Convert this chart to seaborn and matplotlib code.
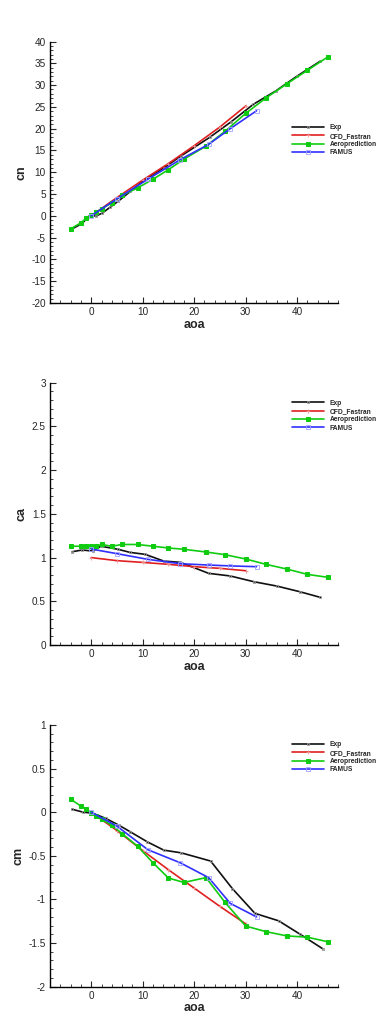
import numpy as np
import pandas as pd
import matplotlib
matplotlib.use("Agg")
import matplotlib.pyplot as plt
from matplotlib.ticker import MultipleLocator
import seaborn as sns

# series names / legend
noms = ["Exp", "CFD_Fastran", "Aeroprediction", "FAMUS"]

# ---- cn ----
cn_exp_aoa = [-3.7, -1.7, -0.5, 1.0, 2.1, 3.7, 5.3, 7.6, 10.5, 14.1, 17.4, 23.0, 27.2, 31.5, 35.9, 39.9, 44.5]
cn_exp = [-3.0, -1.7, -0.1, 0.0, 0.6, 2.0, 3.4, 5.6, 8.4, 11.0, 13.7, 18.0, 21.6, 25.6, 28.7, 32.0, 35.5]
cfd_aoa = [0, 5, 10, 15, 20, 25, 30]
cn_cfd = [0.0, 4.2, 8.2, 12.0, 16.1, 20.4, 25.2]
aero_aoa = [-4, -2, -1, 0, 1, 2, 4, 6, 9, 12, 15, 18, 22.3, 26, 30, 34, 38, 42, 46]
cn_aero = [-3.0, -1.6, -0.6, 0.1, 0.8, 1.6, 3.0, 4.7, 6.4, 8.4, 10.6, 13.0, 16.0, 19.4, 23.5, 27.1, 30.3, 33.4, 36.5]
famus_aoa = [0, 5, 11, 17.3, 22.8, 27, 32.1]
cn_famus = [0.0, 3.9, 8.4, 12.9, 16.4, 20.0, 24.1]

# ---- ca ----
ca_exp_aoa = [-3.7, -1.75, 0.3, 1.9, 5.2, 7.5, 10.5, 14.1, 17.3, 22.8, 27.0, 31.6, 36.0, 40.5, 44.5]
ca_exp = [1.067, 1.087, 1.075, 1.13, 1.095, 1.06, 1.037, 0.96, 0.946, 0.82, 0.79, 0.724, 0.675, 0.61, 0.545]
ca_cfd = [1.0, 0.965, 0.945, 0.923, 0.896, 0.877, 0.85]
ca_aero = [1.13, 1.13, 1.13, 1.13, 1.13, 1.15, 1.13, 1.15, 1.15, 1.13, 1.11, 1.095, 1.064, 1.033, 0.984, 0.922, 0.869, 0.808, 0.774]
ca_famus = [1.098, 1.045, 0.98, 0.93, 0.915, 0.905, 0.896]

# ---- cm ----
cm_exp_aoa = [-3.7, -1.55, 0.2, 2.8, 5.4, 7.6, 10.9, 14.1, 17.5, 23.2, 27.4, 31.8, 36.4, 40.6, 45.0]
cm_exp = [0.034, 0.0, -0.01, -0.07, -0.15, -0.225, -0.34, -0.435, -0.466, -0.56, -0.875, -1.16, -1.245, -1.40, -1.567]
cm_cfd = [0.0, -0.21, -0.44, -0.66, -0.87, -1.08, -1.28]
cm_aero = [0.15, 0.07, 0.04, -0.01, -0.045, -0.08, -0.15, -0.245, -0.39, -0.58, -0.755, -0.805, -0.75, -1.035, -1.305, -1.37, -1.418, -1.433, -1.486]
cm_famus = [0.0, -0.16, -0.43, -0.58, -0.75, -1.045, -1.20]

sns.set_style("ticks")
plt.rcParams['font.family'] = ['Liberation Sans', 'DejaVu Sans']

styles = [
    dict(color="#101010", marker="s", markersize=2.0, markerfacecolor="none", markeredgecolor="#909090", markeredgewidth=0.6),
    dict(color="#e02020", marker="+", markersize=3, markeredgecolor="#f09090", markeredgewidth=0.6),
    dict(color="#10cc10", marker="s", markersize=2.2, markerfacecolor="#10cc10", markeredgecolor="#10cc10"),
    dict(color="#3030ff", marker="s", markersize=2.2, markerfacecolor="none", markeredgecolor="#a0a0ff", markeredgewidth=0.6),
]

fig = plt.figure(figsize=(3.85, 10.25), dpi=100)

# [left, bottom, width, height], ylim, major, minor, label, legend y
panneaux = [
    ([0.1299, 0.7044, 0.749, 0.2551], (-20, 40), 5, 1, "cn",
     [(cn_exp_aoa, cn_exp), (cfd_aoa, cn_cfd), (aero_aoa, cn_aero), (famus_aoa, cn_famus)], 0.683),
    ([0.1299, 0.3707, 0.749, 0.2559], (0, 3), 0.5, 0.1, "ca",
     [(ca_exp_aoa, ca_exp), (cfd_aoa, ca_cfd), (aero_aoa, ca_aero), (famus_aoa, ca_famus)], 0.935),
    ([0.1299, 0.0374, 0.749, 0.2553], (-2, 1), 0.5, 0.1, "cm",
     [(cm_exp_aoa, cm_exp), (cfd_aoa, cm_cfd), (aero_aoa, cm_aero), (famus_aoa, cm_famus)], 0.937),
]

for rect, ylim, maj, mino, lab, series, ly in panneaux:
    ax = fig.add_axes(rect)
    for (x, y), nom, st in zip(series, noms, styles):
        sns.lineplot(x=x, y=y, ax=ax, label=nom, sort=False, estimator=None,
                     linewidth=1.2, **st)
    ax.set_xlim(-8, 48)
    ax.set_ylim(*ylim)
    ax.xaxis.set_major_locator(MultipleLocator(10))
    ax.xaxis.set_minor_locator(MultipleLocator(2))
    ax.yaxis.set_major_locator(MultipleLocator(maj))
    ax.yaxis.set_minor_locator(MultipleLocator(mino))
    ax.yaxis.set_major_formatter(matplotlib.ticker.FuncFormatter(lambda v, p: f"{v:g}"))
    ax.tick_params(which="major", direction="in", length=4, width=0.8, labelsize=7.2, pad=3)
    ax.tick_params(which="minor", direction="in", length=2, width=0.6)
    sns.despine(ax=ax)
    for s in ["left", "bottom"]:
        ax.spines[s].set_linewidth(1.0)
        ax.spines[s].set_color("black")
    ax.set_xlabel("aoa", fontsize=9, fontweight="bold", labelpad=1)
    ax.set_ylabel(lab, fontsize=9, fontweight="bold", labelpad=3)
    ax.legend(loc="upper left", bbox_to_anchor=(0.84, ly), frameon=False,
              prop=dict(size=4.8, weight="bold"), borderpad=0, borderaxespad=0,
              handlelength=4.8, handletextpad=0.8, labelspacing=0.2)

fig.savefig("out.png", dpi=100)
